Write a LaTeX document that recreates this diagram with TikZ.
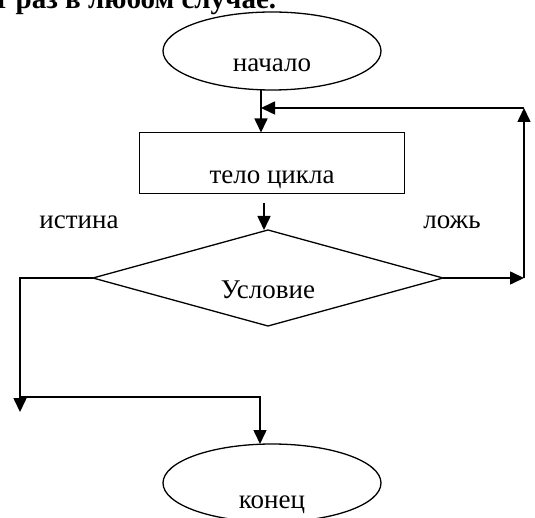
\documentclass[tikz,border=0pt]{standalone}
\usepackage{fontspec}
\setmainfont{Liberation Serif}
\usetikzlibrary{shapes.geometric,arrows.meta}
\begin{document}
\begin{tikzpicture}[x=1pt,y=-1pt,
  shp/.style={draw, line width=1.3pt, inner sep=0pt, outer sep=0pt},
  term/.style={shp, ellipse, minimum width=218pt, minimum height=78pt},
  proc/.style={shp, rectangle, minimum width=265pt, minimum height=61pt},
  cond/.style={shp, diamond, minimum width=350pt, minimum height=96pt},
  txt/.style={font=\fontsize{27}{32}\selectfont, inner sep=0pt, anchor=base},
  conn/.style={line width=1.6pt, -{Triangle[length=14pt,width=13pt]}},
  wire/.style={line width=1.6pt}
]
\useasboundingbox (0,0) rectangle (535,518);
\node[anchor=base west, inner sep=0pt, font=\bfseries\fontsize{29}{34}\selectfont] (title) at (-6,9) {т раз в любом случае.};

\node[term] (start) at (272,51) {};
\node[txt] (startT) at (272,72) {начало};
\node[proc] (body) at (272,163) {};
\node[txt] (bodyT) at (272,184) {тело цикла};
\node[cond] (cond) at (268,278) {};
\node[txt] (condT) at (268,299) {Условие};
\node[txt] (yes) at (79,229) {истина};
\node[txt] (no) at (452,229) {ложь};
\node[term] (stop) at (272,483) {};
\node[txt] (stopT) at (272,508) {конец};

\coordinate (rt) at (524,108);
\coordinate (rb) at (524,278);
\coordinate (jn) at (261,108);
\coordinate (lt) at (20,278);
\coordinate (lb) at (20,412);
\coordinate (h1) at (20,397);
\coordinate (d0) at (264,203);

\draw[conn] ([xshift=-11pt]start.south) -- ([xshift=-11pt]start.south |- body.north);
\draw[conn] (cond.east) -- (rb);
\draw[conn] (rb) -- (rt);
\draw[conn] (rt) -- (jn);
\draw[conn] (d0) -- (d0 |- cond.north);
\draw[conn] (cond.west) -- (lt) -- (lb);
\draw[conn] (h1) -- ([xshift=-12pt]stop.north |- h1) -- ([xshift=-12pt]stop.north);
\end{tikzpicture}
\end{document}
